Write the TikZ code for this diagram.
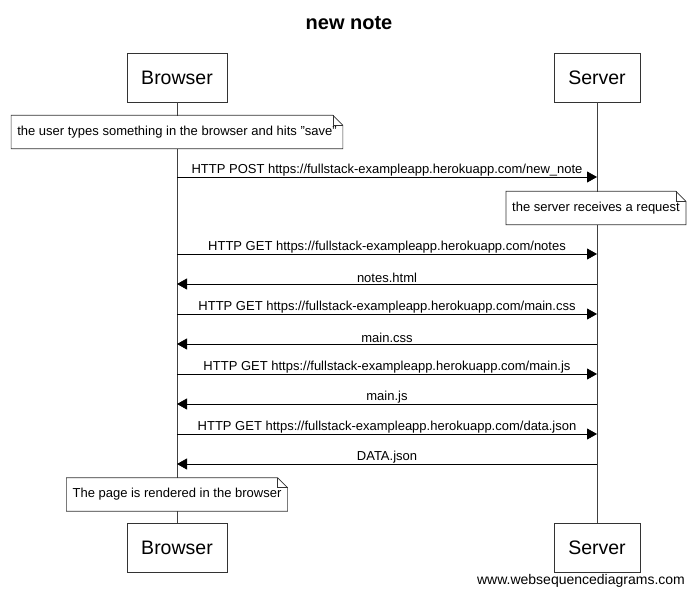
\documentclass[tikz,border=0pt]{standalone}
\usepackage{fontspec}
\setmainfont{Liberation Sans}
\usetikzlibrary{arrows.meta, positioning}
\tikzset{
  actor/.style={rectangle,draw=black!80,fill=white,inner xsep=14pt,minimum height=49pt,font=\fontsize{19.5}{22}\selectfont},
  note/.style={rectangle,fill=white,inner xsep=6pt,minimum height=33pt,font=\fontsize{13}{15}\selectfont},
  noteline/.style={draw=black!80,line width=0.7pt},
  lifeline/.style={draw=black!75,line width=0.8pt},
  msg/.style={draw=black,line width=0.8pt,-{Triangle[length=10pt,width=11pt]}},
  lbl/.style={font=\fontsize{13}{15}\selectfont,inner sep=0.5pt}
}

\begin{document}
\begin{tikzpicture}[x=1pt,y=-1pt]
\useasboundingbox (0,0) rectangle (695,595);
\node[font=\bfseries\fontsize{20}{24}\selectfont] (title) at (349,23) {new note};

% participants
\node[actor] (browserTop) at (177,77.5) {Browser};
\node[actor] (serverTop) at (597,77.5) {Server};
\node[actor] (browserBot) at (177,547.5) {Browser};
\node[actor] (serverBot) at (597,547.5) {Server};
\draw[lifeline] (browserTop) -- (browserBot);
\draw[lifeline] (serverTop) -- (serverBot);

% notes
\node[note] (typeNote) at (177,132) {the user types something in the browser and hits "save"};
\node[note] (requestNote) at (596,208) {the server receives a request};
\node[note] (renderNote) at (177,494.5) {The page is rendered in the browser};
\foreach \n in {typeNote,requestNote,renderNote}{
  \draw[noteline] (\n.south west) -- (\n.north west) -- ([xshift=-10pt]\n.north east)
    -- ([yshift=-10pt]\n.north east) -- (\n.south east) -- cycle;
  \draw[noteline] ([xshift=-10pt]\n.north east) |- ([yshift=-10pt]\n.north east);
}

% messages
\coordinate (b1) at (browserTop |- 0,177);  \coordinate (s1) at (serverTop |- 0,177);
\coordinate (b2) at (browserTop |- 0,254);  \coordinate (s2) at (serverTop |- 0,254);
\coordinate (b3) at (browserTop |- 0,284);  \coordinate (s3) at (serverTop |- 0,284);
\coordinate (b4) at (browserTop |- 0,314);  \coordinate (s4) at (serverTop |- 0,314);
\coordinate (b5) at (browserTop |- 0,344);  \coordinate (s5) at (serverTop |- 0,344);
\coordinate (b6) at (browserTop |- 0,374);  \coordinate (s6) at (serverTop |- 0,374);
\coordinate (b7) at (browserTop |- 0,404);  \coordinate (s7) at (serverTop |- 0,404);
\coordinate (b8) at (browserTop |- 0,434);  \coordinate (s8) at (serverTop |- 0,434);
\coordinate (b9) at (browserTop |- 0,464);  \coordinate (s9) at (serverTop |- 0,464);
\draw[msg] (b1) -- node[lbl,above] {HTTP POST https://fullstack-exampleapp.herokuapp.com/new\_note} (s1);
\draw[msg] (b2) -- node[lbl,above] {HTTP GET https://fullstack-exampleapp.herokuapp.com/notes} (s2);
\draw[msg] (s3) -- node[lbl,above] {notes.html} (b3);
\draw[msg] (b4) -- node[lbl,above] {HTTP GET https://fullstack-exampleapp.herokuapp.com/main.css} (s4);
\draw[msg] (s5) -- node[lbl,above] {main.css} (b5);
\draw[msg] (b6) -- node[lbl,above] {HTTP GET https://fullstack-exampleapp.herokuapp.com/main.js} (s6);
\draw[msg] (s7) -- node[lbl,above] {main.js} (b7);
\draw[msg] (b8) -- node[lbl,above] {HTTP GET https://fullstack-exampleapp.herokuapp.com/data.json} (s8);
\draw[msg] (s9) -- node[lbl,above] {DATA.json} (b9);

\node[font=\fontsize{14}{16}\selectfont] (credit) at (581,581) {www.websequencediagrams.com};
\end{tikzpicture}
\end{document}
